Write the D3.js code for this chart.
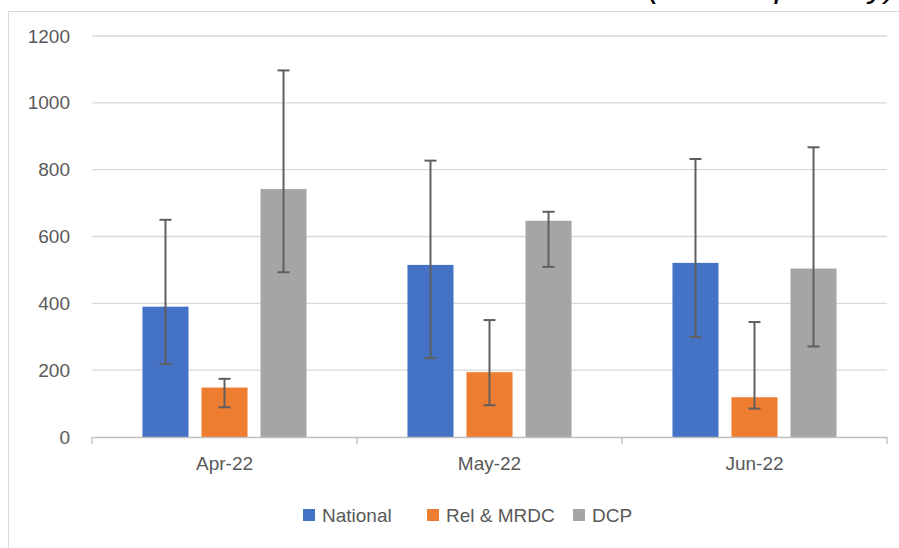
<!DOCTYPE html>
<html><head><meta charset="utf-8">
<script src="https://cdn.jsdelivr.net/npm/d3@7"></script>
<style>body{margin:0;background:#fff;overflow:hidden}svg{display:block}</style>
</head><body>
<svg id="c" width="899" height="548"></svg>
<script>
const categories = ["Apr-22", "May-22", "Jun-22"];
const seriesNames = ["National", "Rel & MRDC", "DCP"];
const national = [390, 515, 521];
const relMrdc = [148, 194, 119];
const dcp = [742, 647, 504];
const nationalLow = [219, 236, 299];
const nationalHigh = [650, 827, 832];
const relLow = [89, 95, 85];
const relHigh = [174, 350, 344];
const dcpLow = [493, 509, 271];
const dcpHigh = [1097, 674, 867];
const yTicks = [0, 200, 400, 600, 800, 1000, 1200];
const colors = ["#4472C4", "#ED7D31", "#A5A5A5"];

const values = [national, relMrdc, dcp];
const lows = [nationalLow, relLow, dcpLow];
const highs = [nationalHigh, relHigh, dcpHigh];

const svg = d3.select("#c");
const font = "'Liberation Sans', Arial, sans-serif";
const pLeft = 92, pRight = 887, pTop = 36, pBottom = 437;

// chart area border
svg.append("rect").attr("x", 8.5).attr("y", 11.5).attr("width", 1000).attr("height", 1000)
  .attr("fill", "none").attr("stroke", "#D9D9D9").attr("stroke-width", 1);

// cut-off title (only its lower edge is visible in the original)
svg.append("text").attr("x", 896).attr("y", -3).attr("text-anchor", "end")
  .attr("font-family", font).attr("font-style", "italic").attr("font-size", 33)
  .attr("fill", "#000").text("(Tonnes per day)");

const y = d3.scaleLinear().domain([0, 1200]).range([pBottom, pTop]);
const x0 = d3.scaleBand().domain(categories).range([pLeft, pRight]).paddingInner(0).paddingOuter(0);
const x1 = d3.scaleBand().domain(seriesNames).range([0, x0.bandwidth()]).paddingInner(0.22).paddingOuter(0.855);

// gridlines
svg.append("g").selectAll("line").data(yTicks.filter(d => d > 0)).join("line")
  .attr("x1", pLeft).attr("x2", pRight).attr("y1", d => y(d)).attr("y2", d => y(d))
  .attr("stroke", "#D9D9D9").attr("stroke-width", 1.3);

// y axis labels
const yAxis = d3.axisLeft(y).tickValues(yTicks).tickSize(0).tickPadding(22).tickFormat(d3.format("d"));
const ya = svg.append("g").attr("transform", `translate(${pLeft},0)`).call(yAxis);
ya.select(".domain").remove();
ya.selectAll("text").attr("font-family", font).attr("font-size", 19).attr("fill", "#595959");

// bars
const groups = svg.append("g").selectAll("g").data(categories).join("g")
  .attr("transform", c => `translate(${x0(c)},0)`);
seriesNames.forEach((s, si) => {
  groups.append("rect")
    .attr("x", x1(s)).attr("width", x1.bandwidth())
    .attr("y", (c, ci) => y(values[si][ci]))
    .attr("height", (c, ci) => y(0) - y(values[si][ci]))
    .attr("fill", colors[si]);
});

// x axis
const xAxis = d3.axisBottom(x0).tickSize(0).tickPadding(20);
const xa = svg.append("g").attr("transform", `translate(0,${pBottom})`).call(xAxis);
xa.select(".domain").attr("stroke", "#BFBFBF").attr("stroke-width", 1.3);
xa.selectAll("text").attr("font-family", font).attr("font-size", 19).attr("fill", "#595959");
svg.append("g").selectAll("line").data(d3.range(categories.length + 1)).join("line")
  .attr("x1", i => i < categories.length ? x0(categories[i]) : pRight)
  .attr("x2", i => i < categories.length ? x0(categories[i]) : pRight)
  .attr("y1", pBottom).attr("y2", pBottom + 7)
  .attr("stroke", "#BFBFBF").attr("stroke-width", 1.3);

// error bars
seriesNames.forEach((s, si) => {
  const g = groups.append("g").attr("stroke", "#5F5F5F").attr("stroke-width", 2);
  const cx = x1(s) + x1.bandwidth() / 2;
  g.append("line").attr("x1", cx).attr("x2", cx)
    .attr("y1", (c, ci) => y(highs[si][ci])).attr("y2", (c, ci) => y(lows[si][ci]));
  g.append("line").attr("x1", cx - 6).attr("x2", cx + 6)
    .attr("y1", (c, ci) => y(highs[si][ci])).attr("y2", (c, ci) => y(highs[si][ci]));
  g.append("line").attr("x1", cx - 6).attr("x2", cx + 6)
    .attr("y1", (c, ci) => y(lows[si][ci])).attr("y2", (c, ci) => y(lows[si][ci]));
});

// legend
const legendX = [303, 427, 573];
const lg = svg.append("g").selectAll("g").data(seriesNames).join("g")
  .attr("transform", (d, i) => `translate(${legendX[i]},509)`);
lg.append("rect").attr("width", 12).attr("height", 12).attr("fill", (d, i) => colors[i]);
lg.append("text").attr("x", 19).attr("y", 12.5).attr("font-family", font).attr("font-size", 19)
  .attr("fill", "#595959").text(d => d);
</script>
</body></html>
